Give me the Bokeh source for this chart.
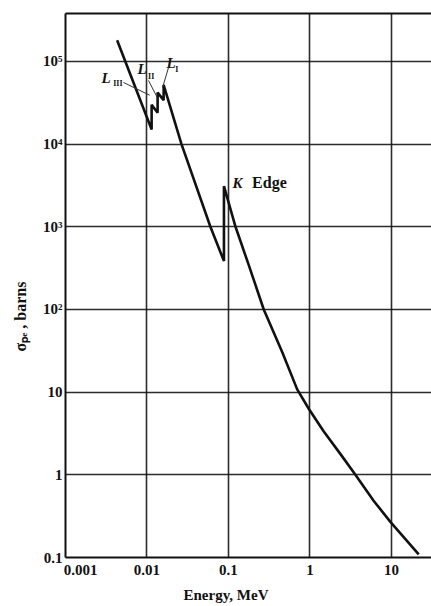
from bokeh.plotting import figure
from bokeh.models import CustomJSTickFormatter, FixedTicker, LogAxis, Title
from bokeh.core.properties import value
from bokeh.embed import file_html
from bokeh.resources import INLINE

# photoelectric cross section of lead
energy = [0.0043, 0.0114, 0.0114, 0.0135, 0.0135, 0.0160, 0.0160, 0.0265,
          0.060, 0.088, 0.088, 0.122, 0.177, 0.271, 0.456, 0.697, 0.966,
          1.47, 2.37, 3.61, 6.07, 9.7, 21.6]
sigma = [1.8e5, 1.5e4, 3.0e4, 2.4e4, 4.2e4, 3.4e4, 5.2e4, 1.0e4,
         1.0e3, 385, 3100, 1000, 346, 100, 30.6, 10.8, 6.3,
         3.36, 1.78, 1.0, 0.483, 0.27, 0.109]

x_ticks = [0.001, 0.01, 0.1, 1, 10]
x_tick_labels = ["\u2007\u2007\u2007\u20070.001", "0.01", "0.1", "1", "10"]
y_ticks = [0.1, 1, 10, 100, 1000, 1e4, 1e5]
y_tick_labels = ["0.1", "1", "10", "10²", "10³", "10⁴", "10⁵"]

SERIF = "Liberation Serif"

p = figure(width=431, height=606, x_axis_type="log", y_axis_type="log",
           x_range=(0.001, 31), y_range=(0.1, 3.8e5),
           output_backend="svg", toolbar_location=None,
           min_border_left=65, min_border_right=0,
           min_border_top=13, min_border_bottom=48)
p.outline_line_color = None
p.background_fill_color = "white"
p.border_fill_color = "white"

js = """
for (let i = 0; i < tv.length; i++) {
  if (Math.abs(Math.log10(tick) - Math.log10(tv[i])) < 1e-6) return lbl[i];
}
return '';
"""
p.xaxis.ticker = FixedTicker(ticks=x_ticks)
p.yaxis.ticker = FixedTicker(ticks=y_ticks)
p.xaxis.formatter = CustomJSTickFormatter(args=dict(tv=x_ticks, lbl=x_tick_labels), code=js)
p.yaxis.formatter = CustomJSTickFormatter(args=dict(tv=y_ticks, lbl=y_tick_labels), code=js)

for ax in (p.xaxis[0], p.yaxis[0]):
    ax.axis_line_width = 2
    ax.axis_line_color = "#111111"
    ax.major_tick_in = 0
    ax.major_tick_out = 0
    ax.minor_tick_line_color = None
    ax.major_label_text_font = SERIF
    ax.major_label_text_font_style = "bold"
    ax.major_label_text_font_size = "15px"
    ax.major_label_text_color = "#111111"
    ax.major_label_standoff = 4
p.yaxis.major_label_standoff = 3

top = LogAxis(axis_line_width=2, axis_line_color="#111111",
              major_tick_line_color=None, minor_tick_line_color=None,
              formatter=CustomJSTickFormatter(code="return '';"),
              major_label_standoff=0)
p.add_layout(top, "above")

p.grid.grid_line_color = "#151515"
p.grid.grid_line_width = 1.6
p.grid.grid_line_alpha = 0.9

p.line(energy, sigma, line_color="#111111", line_width=2.6)

# axis titles
xt = Title(text="Energy, MeV", align="left", offset=118, standoff=8,
           text_font=SERIF, text_font_size="15px", text_font_style="bold",
           text_color="#111111")
p.add_layout(xt, "below")
yt = Title(text="σₚₑ , barns", align="left", offset=206, standoff=20,
           vertical_align="top",
           text_font=SERIF, text_font_size="16px", text_font_style="bold",
           text_color="#111111")
p.add_layout(yt, "left")

# edge annotations
p.text(x=[0.112], y=[3410], text=["K"], text_font=value(SERIF),
       text_font_style="bold italic", text_font_size="15px",
       text_baseline="middle", text_align="left", text_color="#111111")
p.text(x=[0.195], y=[3410], text=["Edge"], text_font=value(SERIF),
       text_font_style="bold", text_font_size="16px",
       text_baseline="middle", text_align="left", text_color="#111111")

p.text(x=[0.00277, 0.00764, 0.01734], y=[6.24e4, 8.2e4, 9.46e4],
       text=["L", "L", "L"], text_font=value(SERIF),
       text_font_style="bold italic", text_font_size="15px",
       text_baseline="middle", text_align="left", text_color="#111111")
p.text(x=[0.00385, 0.0103, 0.0222], y=[5.4e4, 6.6e4, 8.0e4],
       text=["III", "II", "I"], text_font=value(SERIF),
       text_font_style="bold", text_font_size="8px",
       text_baseline="middle", text_align="left", text_color="#111111")
p.segment(x0=[0.00515, 0.01043, 0.0184], y0=[5.57e4, 5.89e4, 8.46e4],
          x1=[0.0108, 0.0133, 0.0155], y1=[3.9e4, 3.7e4, 4.8e4],
          line_color="#333333", line_width=1)

open("out.html", "w").write(file_html(p, INLINE))
